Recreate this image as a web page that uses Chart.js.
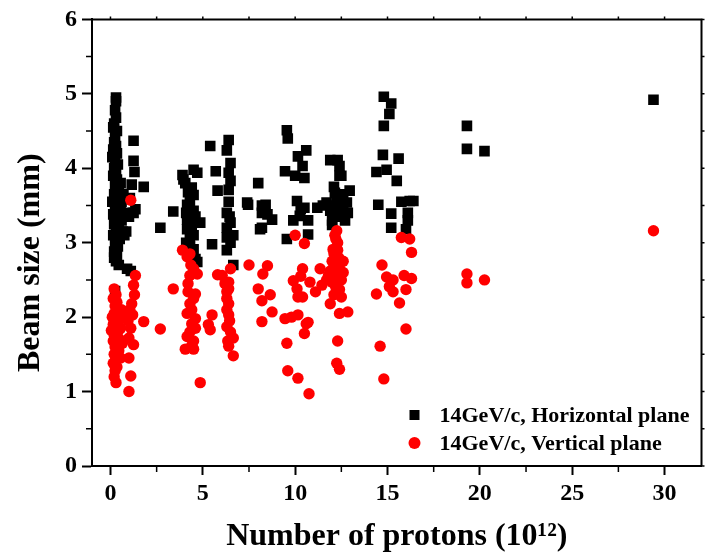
<!DOCTYPE html>
<html>
<head>
<meta charset="utf-8">
<script src="https://cdn.jsdelivr.net/npm/chart.js"></script>
<style>
  html, body { margin: 0; padding: 0; background: #fff; }
  #wrap { width: 709px; height: 558px; }
</style>
</head>
<body>
<div id="wrap"><canvas id="beamChart" width="709" height="558"></canvas></div>
<script>
// Beam size vs number of protons
const seriesLabels = ['14GeV/c, Horizontal plane', '14GeV/c, Vertical plane'];

// [protons (1e12), beam size (mm)]
const horizontalPoints = [
  [0.3,4.95],[0.3,4.9],[0.25,4.78],[0.3,4.68],[0.2,4.6],[0.15,4.55],[0.35,4.5],[0.25,4.42],
  [0.2,4.35],[0.3,4.3],[0.15,4.25],[0.35,4.2],[0.1,4.15],[0.25,4.1],[0.4,4.05],[0.2,4.0],
  [0.3,3.95],[0.15,3.9],[0.35,3.85],[0.25,3.78],[0.45,3.72],[0.2,3.65],[0.3,3.6],[0.1,3.55],
  [0.4,3.5],[0.25,3.45],[0.55,3.42],[0.15,3.38],[0.35,3.32],[0.6,3.3],[0.2,3.25],[0.45,3.2],
  [0.3,3.15],[0.15,3.1],[0.5,3.05],[0.25,3.0],[0.4,2.95],[0.2,2.88],[0.35,2.82],[0.3,2.75],
  [0.45,2.7],[0.2,2.8],[0.6,3.55],[0.7,3.65],[0.55,3.8],[0.65,3.15],[0.8,3.4],[0.75,3.1],
  [0.25,2.35],
  [1.25,4.37],[1.25,4.1],[1.3,3.95],[1.8,3.75],[1.15,3.78],[1.05,3.6],[1.25,3.4],[1.0,3.35],
  [1.35,3.45],[0.85,3.15],[0.9,2.65],[1.1,2.62],
  [2.7,3.2],[3.4,3.42],
  [3.9,3.91],[4.5,3.98],[4.7,3.94],[3.95,3.85],[4.05,3.8],[4.4,3.74],[4.5,3.64],[4.2,3.68],
  [4.15,3.51],[4.3,3.55],[4.5,3.43],[4.1,3.4],[4.15,3.31],[4.35,3.27],[4.86,3.27],[4.15,3.18],
  [4.3,3.05],[4.5,3.1],[4.1,3.0],[4.5,2.91],[4.6,2.78],[4.7,2.74],[4.4,3.2],[4.6,3.35],[4.3,2.95],
  [5.4,4.3],[5.7,3.96],[5.8,3.7],[5.5,2.98],
  [6.4,4.38],[6.3,4.24],[6.5,4.07],[6.4,3.94],[6.5,3.83],[6.4,3.71],[6.3,3.4],[6.5,3.27],
  [6.65,3.1],[6.3,3.07],[6.3,2.9],[6.65,2.7],[6.4,3.55],[6.3,3.2],[6.5,3.0],[6.45,3.35],
  [7.4,3.54],
  [8.0,3.8],[7.45,3.51],[8.2,3.5],[8.4,3.51],[8.2,3.4],[8.5,3.38],[8.75,3.31],[8.1,3.18],[8.2,3.2],
  [9.55,4.51],[9.6,4.4],[10.6,4.24],[10.15,4.16],[10.4,4.03],[9.45,3.96],[10.0,3.9],[10.5,3.87],
  [10.1,3.56],[10.5,3.47],[10.25,3.36],[9.9,3.3],[10.7,3.3],[10.7,3.11],[9.55,3.05],[10.3,3.45],
  [11.9,4.11],[12.3,4.11],[12.4,4.03],[12.4,3.9],[12.5,3.9],[12.95,3.7],[12.15,3.67],[12.25,3.58],
  [11.7,3.54],[11.2,3.47],[11.9,3.43],[12.4,3.4],[12.0,3.3],[12.0,3.24],[12.85,3.4],[12.8,3.54],
  [12.2,3.5],[12.5,3.6],[12.6,3.45],[12.3,3.35],[11.5,3.5],[12.7,3.3],[12.1,3.75],[12.6,3.65],
  [14.8,4.96],[15.2,4.87],[15.1,4.73],[14.8,4.57],[14.75,4.18],[15.6,4.13],[14.4,3.95],[14.95,3.98],
  [15.5,3.83],[14.5,3.51],[15.2,3.39],[15.75,3.55],[16.2,3.56],[16.4,3.56],[16.1,3.4],[16.1,3.3],
  [15.2,3.2],[16.0,3.18],
  [19.3,4.57],[19.3,4.26],[20.25,4.23],[29.4,4.92]
];

const verticalPoints = [
  [0.2,2.38],[0.3,2.3],[0.15,2.25],[0.35,2.2],[0.25,2.15],[0.4,2.1],[0.2,2.05],[0.1,2.0],
  [0.3,1.98],[0.45,1.95],[0.15,1.9],[0.35,1.88],[0.25,1.85],[0.05,1.82],[0.4,1.8],[0.2,1.76],
  [0.3,1.72],[0.5,1.7],[0.15,1.68],[0.35,1.64],[0.25,1.6],[0.45,1.55],[0.2,1.5],[0.3,1.45],
  [0.15,1.38],[0.35,1.33],[0.25,1.28],[0.2,1.2],[0.3,1.12],[0.55,1.85],[0.6,2.1],[0.65,1.65],
  [0.55,1.45],[0.7,2.0],
  [1.35,2.56],[1.25,2.43],[1.3,2.3],[1.15,2.18],[1.2,2.03],[1.8,1.94],[1.1,1.85],[1.0,1.72],
  [1.25,1.63],[1.0,1.45],[1.1,1.21],[1.0,1.0],[1.1,3.57],[0.95,1.95],[1.05,2.1],
  [2.7,1.84],[3.4,2.38],
  [3.9,2.9],[4.15,2.81],[4.3,2.85],[4.5,2.65],[4.7,2.58],[4.3,2.56],[4.2,2.45],[4.6,2.31],
  [4.2,2.34],[4.3,2.18],[4.5,2.25],[4.15,2.05],[4.4,2.1],[4.4,1.91],[4.6,1.98],[4.15,1.74],
  [4.5,1.68],[4.3,1.8],[4.05,1.57],[4.5,1.57],[4.4,1.62],[4.86,1.12],[4.35,2.7],[4.6,1.85],
  [5.5,2.03],[5.4,1.83],[5.8,2.57],[5.3,1.9],
  [6.5,2.65],[6.05,2.56],[6.4,2.47],[6.3,2.34],[6.4,2.38],[6.4,2.18],[6.3,2.25],[6.4,2.03],
  [6.3,1.87],[6.45,1.95],[6.65,1.72],[6.4,1.61],[6.65,1.48],[6.3,2.1],[6.5,1.8],[6.35,1.68],[6.2,2.45],
  [7.5,2.7],
  [8.5,2.69],[8.25,2.58],[8.0,2.38],[8.65,2.3],[8.2,2.22],[8.75,2.07],[8.2,1.94],
  [9.9,2.49],[10.0,3.1],[10.5,2.99],[10.4,2.65],[10.1,2.38],[10.4,2.27],[10.15,2.27],[10.8,2.47],
  [9.45,1.98],[10.15,2.03],[10.7,1.93],[10.6,1.91],[10.5,1.78],[9.55,1.65],[9.6,1.28],[10.15,1.18],
  [10.75,0.97],[10.3,2.55],[9.8,2.0],
  [11.35,2.65],[11.8,2.56],[11.45,2.43],[11.1,2.34],[12.05,2.91],[12.25,3.16],[12.2,3.05],[12.3,3.0],
  [12.1,2.85],[12.35,2.8],[12.0,2.75],[12.2,2.7],[12.4,2.65],[11.9,2.62],[12.1,2.6],[12.3,2.55],
  [12.5,2.5],[12.0,2.47],[12.2,2.4],[12.4,2.37],[12.1,2.3],[12.5,2.27],[11.9,2.18],[12.4,2.05],
  [12.85,2.07],[12.3,1.68],[12.25,1.38],[12.4,1.3],[12.6,2.6],[12.3,2.9],[11.7,2.5],[12.6,2.75],[12.15,3.1],
  [15.75,3.07],[16.2,3.05],[16.3,2.87],[15.9,2.56],[16.3,2.52],[14.7,2.7],[14.95,2.54],[15.3,2.5],
  [15.1,2.41],[16.0,2.37],[14.4,2.31],[15.3,2.34],[15.65,2.19],[16.0,1.84],[14.6,1.61],[14.8,1.17],
  [19.3,2.58],[19.3,2.46],[20.25,2.5],[29.4,3.16]
];

const xMajorTicks = [0, 5, 10, 15, 20, 25, 30];
const xMinorTicks = [2.5, 7.5, 12.5, 17.5, 22.5, 27.5];
const yMajorTicks = [0, 1, 2, 3, 4, 5, 6];
const yMinorTicks = [0.5, 1.5, 2.5, 3.5, 4.5, 5.5];

const serif = "'Liberation Serif', 'Times New Roman', serif";

const toXY = pts => pts.map(p => ({ x: p[0], y: p[1] }));

// top/right frame, minor ticks
const framePlugin = {
  id: 'frame',
  afterDraw(chart) {
    const { ctx, chartArea: a, scales: { x, y } } = chart;
    ctx.save();
    ctx.strokeStyle = '#000';
    ctx.lineWidth = 2;
    ctx.beginPath();
    ctx.moveTo(a.left, a.top);
    ctx.lineTo(a.right, a.top);
    ctx.lineTo(a.right, a.bottom);
    ctx.stroke();

    ctx.lineWidth = 1.5;
    ctx.beginPath();
    xMinorTicks.forEach(v => {
      const px = x.getPixelForValue(v);
      ctx.moveTo(px, a.bottom);
      ctx.lineTo(px, a.bottom + 6);
    });
    yMinorTicks.forEach(v => {
      const py = y.getPixelForValue(v);
      ctx.moveTo(a.left, py);
      ctx.lineTo(a.left - 6, py);
    });
    xMajorTicks.concat(xMinorTicks).forEach(v => {
      const px = x.getPixelForValue(v);
      ctx.moveTo(px, a.top);
      ctx.lineTo(px, a.top - 3);
    });
    yMajorTicks.concat(yMinorTicks).forEach(v => {
      const py = y.getPixelForValue(v);
      ctx.moveTo(a.right, py);
      ctx.lineTo(a.right + 3, py);
    });
    ctx.stroke();
    ctx.restore();
  }
};

// legend in the lower right of the plot
const legendPlugin = {
  id: 'innerLegend',
  afterDatasetsDraw(chart) {
    const { ctx, chartArea: a } = chart;
    const mx = a.right - 287;
    const tx = a.right - 262;
    const rows = [a.bottom - 51, a.bottom - 23];
    ctx.save();
    ctx.font = 'bold 22px ' + serif;
    ctx.textBaseline = 'middle';
    ctx.fillStyle = '#000';
    ctx.fillRect(mx - 5, rows[0] - 5, 10, 10);
    ctx.fillText(chart.data.datasets[0].label, tx, rows[0] + 1);
    ctx.fillStyle = '#ff0000';
    ctx.beginPath();
    ctx.arc(mx, rows[1], 6, 0, Math.PI * 2);
    ctx.fill();
    ctx.fillStyle = '#000';
    ctx.fillText(chart.data.datasets[1].label, tx, rows[1] + 1);
    ctx.restore();
  }
};

const ctx = document.getElementById('beamChart').getContext('2d');

const beamChart = new Chart(ctx, {
  type: 'scatter',
  data: {
    datasets: [
      {
        label: seriesLabels[0],
        data: toXY(horizontalPoints),
        pointStyle: 'rect',
        pointRadius: 7.5,
        pointBorderWidth: 0,
        backgroundColor: '#000',
        borderColor: '#000',
        order: 2
      },
      {
        label: seriesLabels[1],
        data: toXY(verticalPoints),
        pointStyle: 'circle',
        pointRadius: 5.7,
        pointBorderWidth: 0,
        backgroundColor: '#ff0000',
        borderColor: '#ff0000',
        order: 1
      }
    ]
  },
  options: {
    responsive: false,
    animation: false,
    layout: { padding: { top: 15, right: 6, left: 0, bottom: 0 } },
    plugins: {
      legend: { display: false },
      tooltip: { enabled: false }
    },
    scales: {
      x: {
        type: 'linear',
        min: -1,
        max: 32,
        afterBuildTicks: s => { s.ticks = xMajorTicks.map(v => ({ value: v })); },
        afterFit: s => { s.height = 92; },
        ticks: {
          color: '#000',
          padding: 4,
          font: { family: serif, size: 24, weight: 'bold' }
        },
        grid: { drawOnChartArea: false, tickLength: 9, tickColor: '#000', tickWidth: 2 },
        border: { color: '#000', width: 2 },
        title: {
          display: true,
          text: 'Number of protons (10¹²)',
          color: '#000',
          padding: { top: 0, bottom: 2 },
          font: { family: serif, size: 32, weight: 'bold' }
        }
      },
      y: {
        type: 'linear',
        min: 0,
        max: 6,
        afterBuildTicks: s => { s.ticks = yMajorTicks.map(v => ({ value: v })); },
        afterFit: s => { s.width = 92; },
        ticks: {
          color: '#000',
          padding: 5,
          font: { family: serif, size: 24, weight: 'bold' }
        },
        grid: { drawOnChartArea: false, tickLength: 10, tickColor: '#000', tickWidth: 2 },
        border: { color: '#000', width: 2 },
        title: {
          display: true,
          text: 'Beam size (mm)     ',
          color: '#000',
          padding: { top: 12, bottom: 0 },
          font: { family: serif, size: 32, weight: 'bold' }
        }
      }
    }
  },
  plugins: [framePlugin, legendPlugin]
});
</script>
</body>
</html>
